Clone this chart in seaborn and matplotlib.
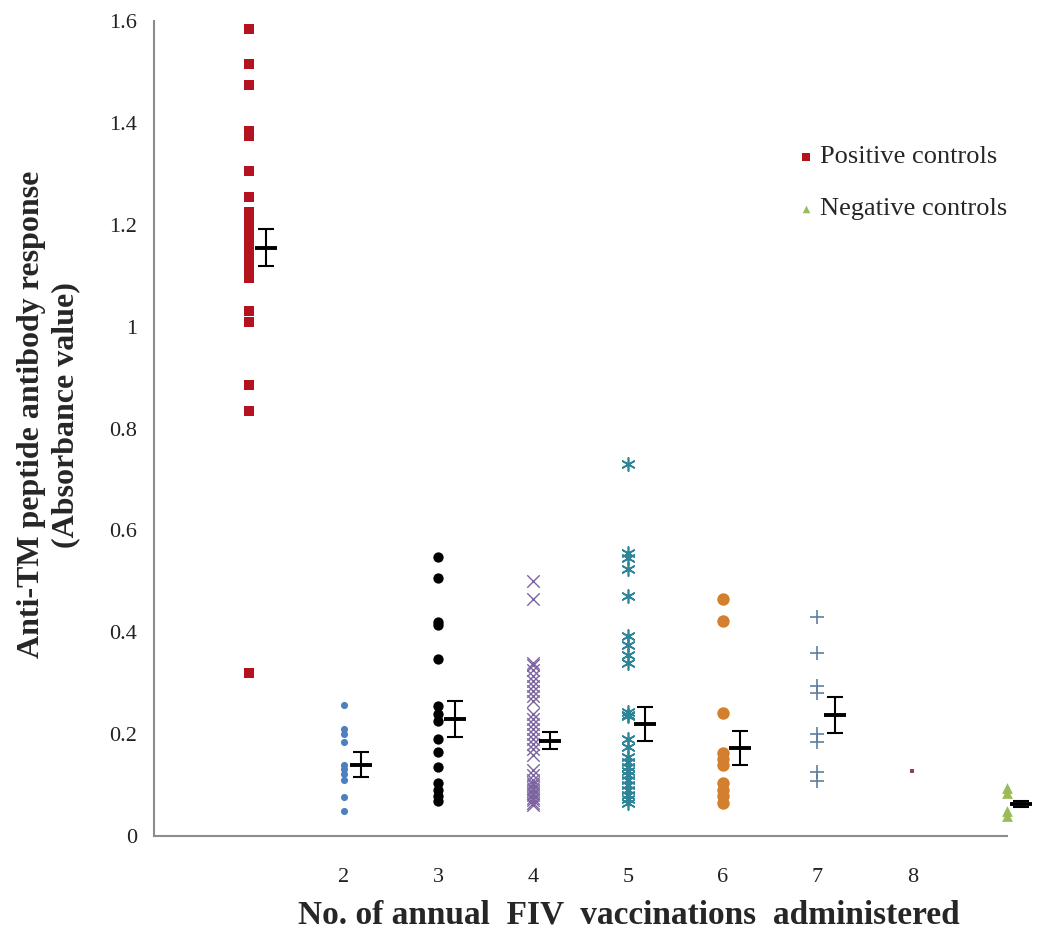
import pandas as pd
import matplotlib.pyplot as plt
import seaborn as sns

# values
pos_vals = [1.585, 1.515, 1.475, 1.385, 1.375, 1.305, 1.255, 1.225, 1.215, 1.205,
            1.195, 1.185, 1.175, 1.165, 1.155, 1.145, 1.135, 1.125, 1.115, 1.105,
            1.095, 1.03, 1.01, 0.885, 0.835, 0.32]
g2_vals = [0.258, 0.21, 0.2, 0.185, 0.14, 0.132, 0.122, 0.11, 0.077, 0.05]
g3_vals = [0.548, 0.506, 0.42, 0.415, 0.347, 0.255, 0.24, 0.225, 0.19, 0.165,
           0.135, 0.105, 0.09, 0.078, 0.068]
g4_vals = [0.50, 0.465, 0.34, 0.335, 0.325, 0.315, 0.305, 0.295, 0.285, 0.275,
           0.265, 0.24, 0.23, 0.22, 0.21, 0.2, 0.19, 0.18, 0.17, 0.16, 0.13,
           0.12, 0.11, 0.105, 0.1, 0.095, 0.09, 0.085, 0.08, 0.075, 0.07, 0.065, 0.06]
g5_vals = [0.73, 0.555, 0.545, 0.525, 0.472, 0.392, 0.375, 0.355, 0.34, 0.243,
           0.238, 0.235, 0.19, 0.175, 0.155, 0.145, 0.135, 0.128, 0.12, 0.11,
           0.1, 0.09, 0.08, 0.072, 0.065]
g6_vals = [0.465, 0.422, 0.242, 0.162, 0.152, 0.14, 0.105, 0.09, 0.078, 0.065]
g7_vals = [0.43, 0.36, 0.295, 0.28, 0.2, 0.185, 0.125, 0.108]
g8_vals = [0.127]
neg_vals = [0.095, 0.085, 0.05, 0.04]

groups = ['Positive controls', '2', '3', '4', '5', '6', '7', '8', 'Negative controls']
group_x = [1, 2, 3, 4, 5, 6, 7, 8, 9]
group_vals = [pos_vals, g2_vals, g3_vals, g4_vals, g5_vals, g6_vals, g7_vals, g8_vals, neg_vals]

# mean +/- SE shown beside each column
mean_x = [1.18, 2.18, 3.18, 4.18, 5.18, 6.18, 7.18, 9.15]
means = [1.155, 0.14, 0.23, 0.187, 0.22, 0.173, 0.237, 0.062]
sems = [0.036, 0.025, 0.036, 0.017, 0.033, 0.033, 0.035, 0.006]

x_ticks = [0, 1, 2, 3, 4, 5, 6, 7, 8, 9]
x_ticklabels = ['', '', '2', '3', '4', '5', '6', '7', '8', '']
y_ticks = [0, 0.2, 0.4, 0.6, 0.8, 1.0, 1.2, 1.4, 1.6]
y_ticklabels = ['0', '0.2', '0.4', '0.6', '0.8', '1', '1.2', '1.4', '1.6']

rows = []
for g, xv, vals in zip(groups, group_x, group_vals):
    for v in vals:
        rows.append({'group': g, 'x': xv, 'y': v})
df = pd.DataFrame(rows)

styles = {
    'Positive controls': dict(marker='s', s=55, color='#B3121E', linewidth=0),
    '2': dict(marker='o', s=26, color='#4F7FBE', linewidth=0),
    '3': dict(marker='o', s=55, color='black', linewidth=0),
    '4': dict(marker='x', s=80, color='#7B64A0', linewidth=1.0),
    '5': dict(marker=(6, 2, 0), s=90, color='#2E8597', linewidth=1.2),
    '6': dict(marker='o', s=80, color='#D2802F', linewidth=0),
    '7': dict(marker='+', s=90, color='#5F7F9C', linewidth=1.2),
    '8': dict(marker='s', s=12, color='#94405A', linewidth=0),
    'Negative controls': dict(marker='^', s=60, color='#9BBB59', linewidth=0),
}

sns.set_style('white')
plt.rcParams['font.family'] = ['Liberation Serif', 'DejaVu Serif']

fig = plt.figure(figsize=(10.39, 9.31), dpi=100)
ax = fig.add_axes([154 / 1039, 1 - 836 / 931, 853 / 1039, 815 / 931])

for g in groups:
    sub = df[df['group'] == g]
    lab = g if 'controls' in g else None
    sns.scatterplot(data=sub, x='x', y='y', ax=ax, label=lab, legend=False,
                    clip_on=False, zorder=3, **styles[g])

ax.errorbar(mean_x, means, yerr=sems, fmt='none', ecolor='black',
            elinewidth=1.5, capsize=5.5, capthick=1.5, zorder=4, clip_on=False)
ax.scatter(mean_x, means, marker='_', s=260, linewidths=2.8, color='black',
           zorder=5, clip_on=False)

ax.set_xlim(0, 9)
ax.set_ylim(0, 1.6)
ax.set_xticks(x_ticks)
ax.set_xticklabels(x_ticklabels)
ax.set_yticks(y_ticks)
ax.set_yticklabels(y_ticklabels)

for side in ['top', 'right']:
    ax.spines[side].set_visible(False)
for side in ['left', 'bottom']:
    ax.spines[side].set_color('#8C8C8C')
    ax.spines[side].set_linewidth(1.5)
ax.tick_params(axis='both', direction='out', length=7, width=1.3, color='#8C8C8C',
               labelsize=16, labelcolor='#222222')
ax.tick_params(axis='x', pad=16)
ax.tick_params(axis='y', pad=5)

ax.set_xlabel('No. of annual  FIV  vaccinations  administered', fontsize=24,
              fontweight='bold')
ax.xaxis.set_label_coords(0.557, -0.078)
ax.set_ylabel('Anti-TM peptide antibody response\n(Absorbance value)', fontsize=23,
              fontweight='bold', linespacing=1.2)
ax.yaxis.set_label_coords(-0.087, 0.517)

ax.legend(loc='upper left', bbox_to_anchor=(799 / 1039, 1 - 145 / 931),
          bbox_transform=fig.transFigure, frameon=False, fontsize=19,
          markerscale=0.7, handlelength=0.5, handletextpad=0.3,
          labelspacing=1.08, borderpad=0, borderaxespad=0)

fig.savefig('out.png', dpi=100, facecolor='white')
